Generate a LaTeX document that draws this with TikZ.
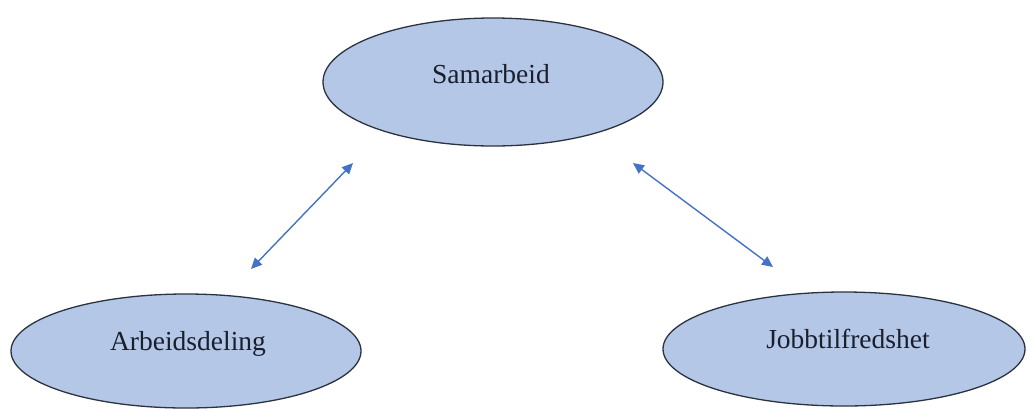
\documentclass[tikz,border=0pt]{standalone}
\usepackage{fontspec}
\setmainfont{Liberation Serif}
\usetikzlibrary{shapes.geometric,arrows.meta}
\definecolor{bubblefill}{HTML}{B4C7E7}
\definecolor{bubbleline}{HTML}{2B3341}
\definecolor{linkblue}{HTML}{4472C4}
\definecolor{labelink}{HTML}{1A1F2E}
\tikzset{
  bubble/.style={ellipse, draw=bubbleline, line width=1.3pt, fill=bubblefill, inner sep=0pt},
  caption/.style={anchor=base, inner sep=0pt, text=labelink, font=\fontsize{27.5}{33}\selectfont},
  link/.style={draw=linkblue, line width=1.4pt,
    {Triangle[length=11pt,width=10pt]}-{Triangle[length=11pt,width=10pt]}}
}
\begin{document}
\begin{tikzpicture}[x=1pt,y=-1pt]
  \useasboundingbox[fill=white] (0,0) rectangle (1027,408);

  % the three ellipses
  \node[bubble, minimum width=340pt, minimum height=128pt] (top) at (493,82) {};
  \node[bubble, minimum width=350pt, minimum height=114pt] (left) at (186,351) {};
  \node[bubble, minimum width=362pt, minimum height=114pt] (right) at (844,349) {};

  % their captions
  \node[caption] (topText) at (491,83) {Samarbeid};
  \node[caption] (leftText) at (188,350) {Arbeidsdeling};
  \node[caption] (rightText) at (848,348) {Jobbtilfredshet};

  % ends of the two double-headed links
  \coordinate (l1) at (251,269);
  \coordinate (l2) at (353,163);
  \coordinate (r1) at (633,163);
  \coordinate (r2) at (773,267);

  \draw[link] (l1) -- (l2);
  \draw[link] (r1) -- (r2);
\end{tikzpicture}
\end{document}
